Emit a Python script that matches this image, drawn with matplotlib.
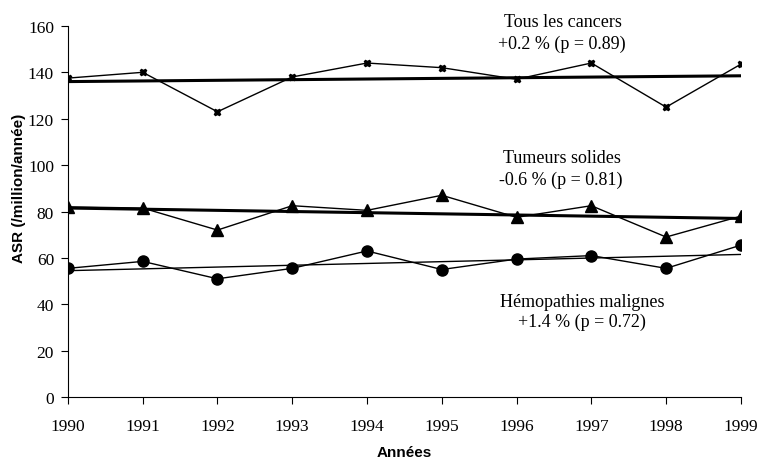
import matplotlib.pyplot as plt

# Data
years = [1990, 1991, 1992, 1993, 1994, 1995, 1996, 1997, 1998, 1999]
tous = [137.5, 140, 123, 138, 144, 142, 137, 144, 125, 143.5]
solides = [82, 81.5, 72, 82.5, 80.5, 87, 77.5, 82.5, 69, 78]
hemopathies = [55.5, 58.5, 51, 55.5, 63, 55, 59.5, 61, 55.5, 65.5]

# Trend lines (start/end values at 1990 and 1999)
trend_years = [1990, 1999]
tous_trend = [136, 138.5]
solides_trend = [81.5, 77]
hemo_trend = [54.5, 61.5]

serif = 'Liberation Serif'
sans = 'Liberation Sans'

fig = plt.figure(figsize=(7.63, 4.64), dpi=100)
ax = fig.add_axes([0.089, 0.142, 0.882, 0.80])

# Series
ax.plot(years, tous, color='black', lw=1, marker='X', ms=5)
ax.plot(years, solides, color='black', lw=1, marker='^', ms=8)
ax.plot(years, hemopathies, color='black', lw=1, marker='o', ms=8)

# Trend lines
ax.plot(trend_years, tous_trend, color='black', lw=2.2)
ax.plot(trend_years, solides_trend, color='black', lw=2.2)
ax.plot(trend_years, hemo_trend, color='black', lw=1)

# Annotations
fs = 13
ax.text(1996.62, 160.0, 'Tous les cancers', ha='center', va='baseline', family=serif, fontsize=fs, clip_on=False)
ax.text(1996.60, 150.5, '+0.2 % (p = 0.89)', ha='center', va='baseline', family=serif, fontsize=fs)
ax.text(1996.61, 101.3, 'Tumeurs solides', ha='center', va='baseline', family=serif, fontsize=fs)
ax.text(1996.59, 91.9, '-0.6 % (p = 0.81)', ha='center', va='baseline', family=serif, fontsize=fs)
ax.text(1996.88, 39.2, 'Hémopathies malignes', ha='center', va='baseline', family=serif, fontsize=fs)
ax.text(1996.88, 30.6, '+1.4 % (p = 0.72)', ha='center', va='baseline', family=serif, fontsize=fs)

# Axes styling
ax.set_xlim(1990, 1999)
ax.set_ylim(0, 160)
ax.set_xticks(years)
ax.set_yticks(range(0, 161, 20))
ax.spines['top'].set_visible(False)
ax.spines['right'].set_visible(False)
ax.tick_params(direction='out', length=5, labelsize=12.5)
ax.tick_params(axis='x', pad=10)
ax.tick_params(axis='y', pad=5)
for lbl in ax.get_xticklabels() + ax.get_yticklabels():
    lbl.set_family(serif)

ax.set_xlabel('Années', family=sans, fontweight='bold', fontsize=11, labelpad=8)
ax.set_ylabel('ASR (/million/année)', family=sans, fontweight='bold', fontsize=11)
ax.yaxis.set_label_coords(-0.063, 0.566)

fig.savefig('out.png', dpi=100)
